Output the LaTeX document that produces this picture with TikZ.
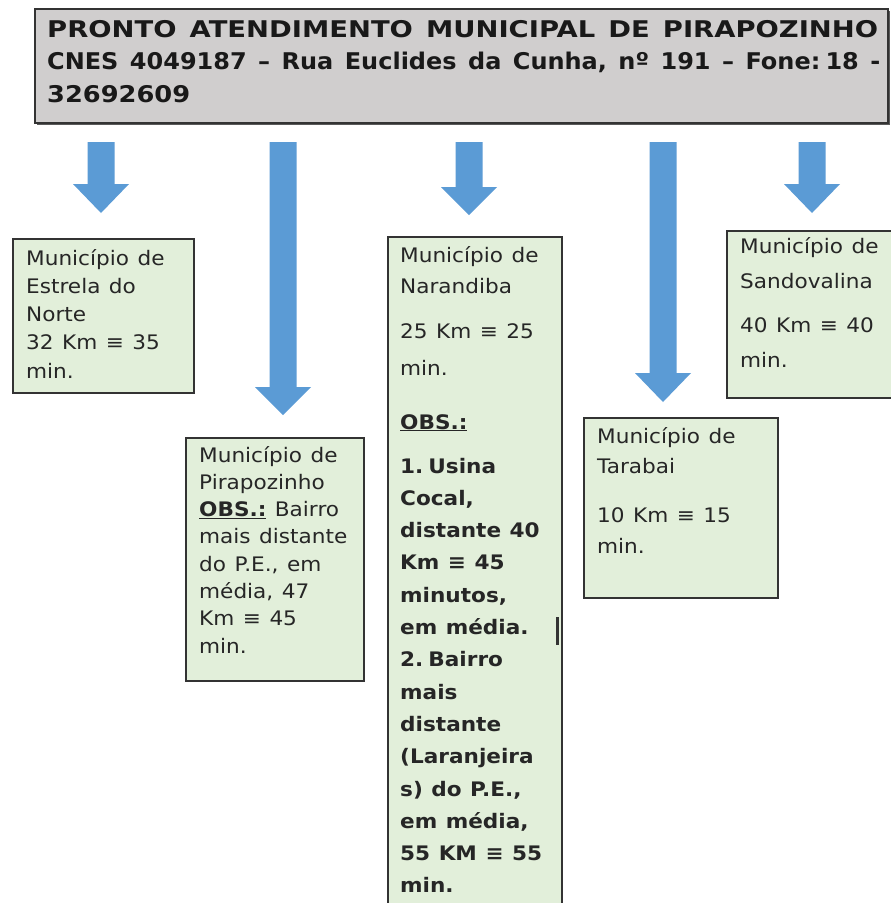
\documentclass[tikz,border=0pt]{standalone}
\usepackage{fontspec}
\setmainfont{DejaVu Sans}
\newfontfamily\boxfont[FakeStretch=1.08]{DejaVu Sans}
\newfontfamily\hdfont{DejaVu Sans}
\definecolor{hdgray}{HTML}{D0CECE}
\definecolor{hdshadow}{HTML}{5A5A5A}
\definecolor{boxgreen}{HTML}{E2EFDA}
\definecolor{arrowblue}{HTML}{5B9BD5}
\definecolor{edgecol}{HTML}{333333}
\newcommand\blockarrow[4]{% center x, top y, head start y, tip y
  \fill[arrowblue] (#1-13.5,#2) -- (#1+13.5,#2) -- (#1+13.5,#3) -- (#1+28,#3)
    -- (#1,#4) -- (#1-28,#3) -- (#1-13.5,#3) -- cycle;}
\newcommand\boxtext[1]{\boxfont\fontsize{20}{#1}\selectfont\spaceskip=8.5pt\relax}
\newcommand\hdline[2]{\resizebox{#1}{\height}{#2}}
\tikzset{
  hdbox/.style={draw=edgecol, line width=1.5pt, fill=hdgray, rectangle, inner sep=0pt, anchor=north west},
  munbox/.style={draw=edgecol, line width=1.6pt, fill=boxgreen, rectangle, inner sep=0pt, anchor=north west},
  munlabel/.style={anchor=base west, inner sep=0pt, text width=220pt, align=left, text=black!85},
}
\begin{document}
\begin{tikzpicture}[x=1pt,y=-1pt]
\clip (0,0) rectangle (891,903);
\fill[white] (0,0) rectangle (891,903);
% header
\fill[hdshadow] (37,11) rectangle (890,125);
\node[hdbox, minimum width=853pt, minimum height=114pt] (header) at (34,8) {};
\node[anchor=base west, inner sep=0pt, text width=1000pt, align=left, text=black!90] (headertext) at (47,37)
  {\hdfont\bfseries\fontsize{23}{32.5}\selectfont\spaceskip=11pt\relax
   \hdline{831pt}{PRONTO ATENDIMENTO MUNICIPAL DE PIRAPOZINHO}\\
   \hdline{833pt}{CNES 4049187 – Rua Euclides da Cunha, nº 191 – Fone: 18 -}\\
   \hdline{143pt}{32692609}\par};
% arrows
\blockarrow{101}{142}{184}{213}
\blockarrow{283}{142}{387}{415}
\blockarrow{469}{142}{187}{215}
\blockarrow{663}{142}{373}{402}
\blockarrow{812}{142}{184}{213}
% boxes
\node[munbox, minimum width=181pt, minimum height=154pt] (estrela) at (12,238) {};
\node[munlabel] (estrelatext) at (26,265)
  {\boxtext{28.3}Município de\\ Estrela do\\ Norte\\ 32 Km ≡ 35\\ min.\par};
\node[munbox, minimum width=178pt, minimum height=243pt] (pirapozinho) at (185,437) {};
\node[munlabel] (pirapozinhotext) at (199,462)
  {\boxtext{27.3}Município de\\ Pirapozinho\\ \underline{\textbf{OBS.:}} Bairro\\ mais distante\\ do P.E., em\\ média, 47\\ Km ≡ 45\\ min.\par};
\node[munbox, minimum width=174pt, minimum height=690pt] (narandiba) at (387,236) {};
\node[munlabel] (narandibatext) at (400,262)
  {\boxtext{32.3}Município de\\[-1.3pt] Narandiba\\[12.7pt] 25 Km ≡ 25\\[4.7pt] min.\\[21.7pt]
   \textbf{\underline{OBS.:}}\\[11.7pt]
   \textbf{1. Usina}\\ \textbf{Cocal,}\\ \textbf{distante 40}\\ \textbf{Km ≡ 45}\\ \textbf{minutos,}\\ \textbf{em média.}\\
   \textbf{2. Bairro}\\ \textbf{mais}\\ \textbf{distante}\\ \textbf{(Laranjeira}\\ \textbf{s) do P.E.,}\\ \textbf{em média,}\\ \textbf{55 KM ≡ 55}\\ \textbf{min.}\par};
\draw[edgecol, line width=3pt] (557,617) -- (557,645);
\node[munbox, minimum width=194pt, minimum height=180pt] (tarabai) at (583,417) {};
\node[munlabel] (tarabaitext) at (597,443)
  {\boxtext{30}Município de\\ Tarabai\\[19pt] 10 Km ≡ 15\\[1pt] min.\par};
\node[munbox, minimum width=200pt, minimum height=167pt] (sandovalina) at (726,230) {};
\node[munlabel] (sandovalinatext) at (740,253)
  {\boxtext{35}Município de\\ Sandovalina\\[9pt] 40 Km ≡ 40\\ min.\par};
\end{tikzpicture}
\end{document}
